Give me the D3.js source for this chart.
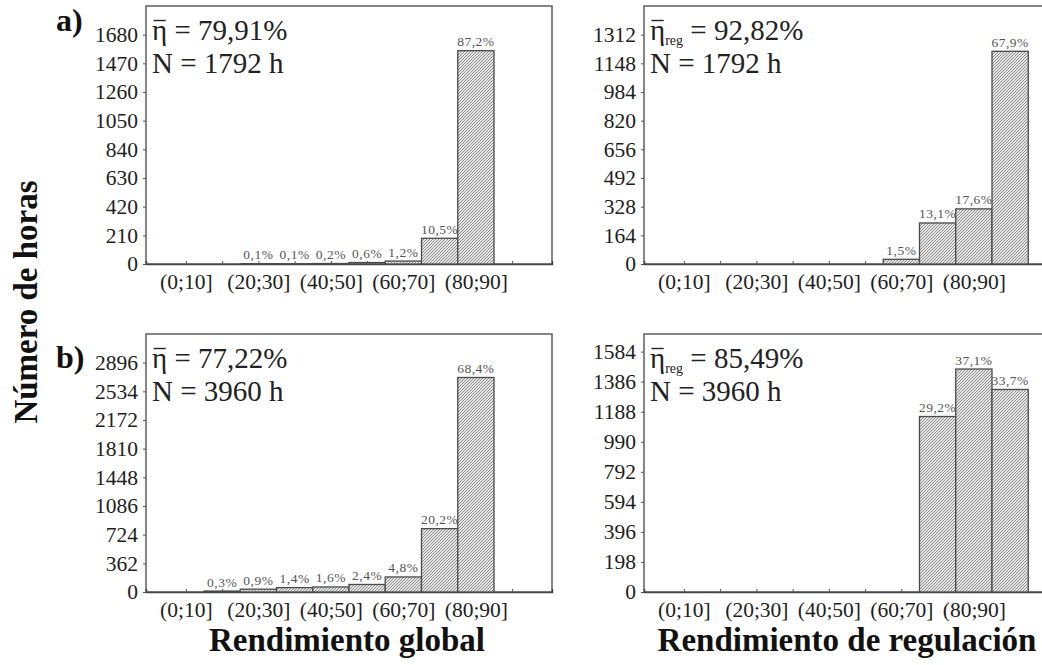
<!DOCTYPE html>
<html>
<head>
<meta charset="utf-8">
<script src="https://cdn.jsdelivr.net/npm/d3@7"></script>
<style>
  html, body { margin: 0; padding: 0; background: #fff; }
  svg { display: block; }
  text { font-family: "Liberation Serif", "Times New Roman", serif; white-space: pre; }
</style>
</head>
<body>
<svg id="chart" width="1042" height="665"></svg>
<script>
// Efficiency bins (lower bound of each 10 % interval) and their labels
const binStarts = [0, 10, 20, 30, 40, 50, 60, 70, 80, 90];
const binLabels = ["(0;10]", "(10;20]", "(20;30]", "(30;40]", "(40;50]",
                   "(50;60]", "(60;70]", "(70;80]", "(80;90]", "(90;100]"];
const shownBinLabels = ["(0;10]", "(20;30]", "(40;50]", "(60;70]", "(80;90]"];

// Share of hours in each bin (%)
const pctGlobalA = [0, 0, 0.1, 0.1, 0.2, 0.6, 1.2, 10.5, 87.2, 0];
const pctRegA    = [0, 0, 0, 0, 0, 0, 1.5, 13.1, 17.6, 67.9];
const pctGlobalB = [0, 0.3, 0.9, 1.4, 1.6, 2.4, 4.8, 20.2, 68.4, 0];
const pctRegB    = [0, 0, 0, 0, 0, 0, 0, 29.2, 37.1, 33.7];

// Total hours of each period
const totalHoursA = 1792;
const totalHoursB = 3960;

// Mean efficiencies
const meanGlobalA = "79,91%";
const meanRegA    = "92,82%";
const meanGlobalB = "77,22%";
const meanRegB    = "85,49%";

// Y axis tick values and upper limits
const yTicksGlobalA = [0, 210, 420, 630, 840, 1050, 1260, 1470, 1680];
const yTicksRegA    = [0, 164, 328, 492, 656, 820, 984, 1148, 1312];
const yTicksGlobalB = [0, 362, 724, 1086, 1448, 1810, 2172, 2534, 2896];
const yTicksRegB    = [0, 198, 396, 594, 792, 990, 1188, 1386, 1584];
const yMaxGlobalA = 1890, yMaxRegA = 1476, yMaxGlobalB = 3258, yMaxRegB = 1700;

const svg = d3.select("#chart");
const SERIF = "'Liberation Serif','Times New Roman',serif";

// Diagonal hatch fill for the bars
const defs = svg.append("defs");
const pat = defs.append("pattern")
  .attr("id", "hatch")
  .attr("patternUnits", "userSpaceOnUse")
  .attr("width", 3).attr("height", 3);
pat.append("rect").attr("width", 3).attr("height", 3).attr("fill", "#e6e6e6");
pat.append("path")
  .attr("d", "M-1,1 l2,-2 M0,3 l3,-3 M2,4 l2,-2")
  .attr("stroke", "#757575").attr("stroke-width", 0.8);

const fmtPct = p => d3.format(".1f")(p).replace(".", ",") + "%";

function drawPanel(opt) {
  const { left, right, top, bottom, pct, total, yTicks, yMax, sub, mean } = opt;
  const g = svg.append("g");

  const x = d3.scaleLinear().domain([-6, 106]).range([left, right]);
  const y = d3.scaleLinear().domain([0, yMax]).range([bottom, top]);

  // frame
  g.append("rect")
    .attr("x", left).attr("y", top)
    .attr("width", right - left).attr("height", bottom - top)
    .attr("fill", "none").attr("stroke", "#5e5e5e").attr("stroke-width", 1.5);

  // y axis
  const ya = g.append("g")
    .attr("transform", `translate(${left},0)`)
    .call(d3.axisLeft(y).tickValues(yTicks).tickSize(3).tickPadding(5).tickFormat(d3.format("d")));
  ya.select(".domain").remove();
  ya.selectAll(".tick line").attr("stroke", "#555");
  ya.selectAll(".tick text")
    .attr("font-size", 21.5).attr("fill", "#1e1e1e")
    .style("font-family", SERIF);

  // x axis: tick at each bin centre, label on every other bin
  const centers = binStarts.map(b => b + 5);
  const xa = g.append("g")
    .attr("transform", `translate(0,${bottom})`)
    .call(d3.axisBottom(x).tickValues(centers).tickSize(-3).tickPadding(10)
      .tickFormat((d, i) => shownBinLabels.includes(binLabels[i]) ? binLabels[i] : ""));
  xa.select(".domain").attr("stroke", "#444").attr("stroke-width", 1.5);
  xa.selectAll(".tick line").attr("stroke", "#555");
  xa.selectAll(".tick text")
    .attr("font-size", 21.5).attr("fill", "#1e1e1e")
    .style("font-family", SERIF);

  // bars
  const data = binStarts.map((b, i) => ({ b, p: pct[i], h: pct[i] / 100 * total }));
  g.selectAll("rect.bar").data(data).join("rect")
    .attr("class", "bar")
    .attr("x", d => x(d.b))
    .attr("width", d => x(d.b + 10) - x(d.b))
    .attr("y", d => y(d.h))
    .attr("height", d => y(0) - y(d.h))
    .attr("fill", "url(#hatch)")
    .attr("stroke", "#4a4a4a").attr("stroke-width", 1.3);

  // percentage labels
  g.selectAll("text.pct").data(data.filter(d => d.p > 0)).join("text")
    .attr("class", "pct")
    .attr("x", d => x(d.b + 5))
    .attr("y", d => y(d.h) - 4.5)
    .attr("text-anchor", "middle")
    .attr("font-size", 13.5).attr("letter-spacing", 0.5)
    .attr("fill", "#555")
    .text(d => fmtPct(d.p));

  // mean efficiency and period length
  const tx = left + 6, ty = top + 34;
  const t = g.append("text").attr("x", tx).attr("y", ty)
    .attr("font-size", 29).attr("fill", "#222");
  t.append("tspan").text("η");
  if (sub) {
    t.append("tspan").attr("font-size", 14).attr("dy", 5).text(sub);
    t.append("tspan").attr("dy", -5).text(" = " + mean);
  } else {
    t.append("tspan").text(" = " + mean);
  }
  const etaW = t.node().getSubStringLength(0, 1);
  g.append("line")
    .attr("x1", tx + 1.5).attr("x2", tx + etaW - 1.5)
    .attr("y1", ty - 19.5).attr("y2", ty - 19.5)
    .attr("stroke", "#222").attr("stroke-width", 1.4);
  g.append("text").attr("x", tx).attr("y", ty + 33)
    .attr("font-size", 29).attr("fill", "#222")
    .text("N = " + total + " h");
}

drawPanel({ left: 146, right: 552, top: 6, bottom: 264, pct: pctGlobalA, total: totalHoursA,
            yTicks: yTicksGlobalA, yMax: yMaxGlobalA, sub: null, mean: meanGlobalA });
drawPanel({ left: 644, right: 1050, top: 6, bottom: 264, pct: pctRegA, total: totalHoursA,
            yTicks: yTicksRegA, yMax: yMaxRegA, sub: "reg", mean: meanRegA });
drawPanel({ left: 146, right: 552, top: 334, bottom: 592, pct: pctGlobalB, total: totalHoursB,
            yTicks: yTicksGlobalB, yMax: yMaxGlobalB, sub: null, mean: meanGlobalB });
drawPanel({ left: 644, right: 1050, top: 334, bottom: 592, pct: pctRegB, total: totalHoursB,
            yTicks: yTicksRegB, yMax: yMaxRegB, sub: "reg", mean: meanRegB });

// panel letters
svg.append("text").attr("x", 56).attr("y", 31)
  .attr("font-size", 32).attr("font-weight", "bold").attr("fill", "#111").text("a)");
svg.append("text").attr("x", 56).attr("y", 368)
  .attr("font-size", 32).attr("font-weight", "bold").attr("fill", "#111").text("b)");

// axis titles
svg.append("text")
  .attr("transform", "translate(37,302) rotate(-90)")
  .attr("text-anchor", "middle")
  .attr("font-size", 33).attr("font-weight", "bold").attr("fill", "#111")
  .text("Número de horas");
svg.append("text").attr("x", 347).attr("y", 651)
  .attr("text-anchor", "middle")
  .attr("font-size", 33).attr("font-weight", "bold").attr("fill", "#111")
  .text("Rendimiento global");
svg.append("text").attr("x", 847).attr("y", 651)
  .attr("text-anchor", "middle")
  .attr("font-size", 33).attr("font-weight", "bold").attr("fill", "#111")
  .text("Rendimiento de regulación");
</script>
</body>
</html>
